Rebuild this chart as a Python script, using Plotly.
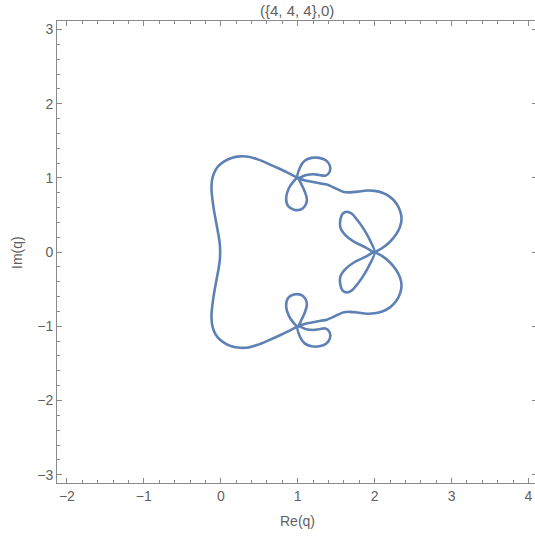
import plotly.graph_objects as go

LINE = "#5E81B5"
FRAME = "#8a8a8a"
TEXT = "#5f5f5f"

# Outer arc: from 1+i over the top, down the left side, to 1-i
arc_re = [1.0, 0.88, 0.77, 0.62, 0.48, 0.36, 0.25, 0.14, 0.04, -0.04, -0.09, -0.115,
          -0.12, -0.097, -0.06, -0.028, -0.012, -0.008,
          -0.012, -0.028, -0.06, -0.097, -0.12, -0.115, -0.09, -0.04, 0.04, 0.14, 0.25, 0.36,
          0.48, 0.62, 0.77, 0.88, 1.0]
arc_im = [1.0, 1.065, 1.12, 1.19, 1.25, 1.285, 1.29, 1.27, 1.22, 1.15, 1.06, 0.96,
          0.84, 0.62, 0.4, 0.22, 0.1, 0.0,
          -0.1, -0.22, -0.4, -0.62, -0.84, -0.96, -1.06, -1.15, -1.22, -1.27, -1.29, -1.285,
          -1.25, -1.19, -1.12, -1.065, -1.0]

# Small loops at 1+i
loop_ul_re = [1.0, 0.945, 0.885, 0.85, 0.875, 0.95, 1.04, 1.1, 1.12, 1.09, 1.045, 1.0]
loop_ul_im = [1.0, 0.95, 0.86, 0.73, 0.62, 0.572, 0.575, 0.63, 0.71, 0.82, 0.92, 1.0]
loop_ur_re = [1.0, 1.03, 1.09, 1.18, 1.28, 1.37, 1.42, 1.415, 1.36, 1.28, 1.2, 1.1, 1.0]
loop_ur_im = [1.0, 1.14, 1.23, 1.27, 1.27, 1.235, 1.16, 1.08, 1.03, 1.04, 1.05, 1.035, 1.0]

# Small loops at 1-i
loop_ll_re = [1.0, 0.945, 0.885, 0.85, 0.875, 0.95, 1.04, 1.1, 1.12, 1.09, 1.045, 1.0]
loop_ll_im = [-1.0, -0.95, -0.86, -0.73, -0.62, -0.572, -0.575, -0.63, -0.71, -0.82, -0.92, -1.0]
loop_lr_re = [1.0, 1.03, 1.09, 1.18, 1.28, 1.37, 1.42, 1.415, 1.36, 1.28, 1.2, 1.1, 1.0]
loop_lr_im = [-1.0, -1.14, -1.23, -1.27, -1.27, -1.235, -1.16, -1.08, -1.03, -1.04, -1.05, -1.035, -1.0]

# Wavy branch from 1+i out to the right lobe, ending at 2
wave_up_re = [1.0, 1.1, 1.2, 1.3, 1.38, 1.45, 1.52, 1.6, 1.68, 1.78, 1.9, 2.0, 2.1, 2.2,
              2.28, 2.33, 2.35, 2.33, 2.28, 2.2, 2.1, 2.0]
wave_up_im = [1.0, 0.965, 0.945, 0.925, 0.91, 0.88, 0.845, 0.81, 0.805, 0.815, 0.83, 0.825,
              0.8, 0.745, 0.66, 0.56, 0.45, 0.34, 0.24, 0.14, 0.055, 0.0]
wave_dn_re = [1.0, 1.1, 1.2, 1.3, 1.38, 1.45, 1.52, 1.6, 1.68, 1.78, 1.9, 2.0, 2.1, 2.2,
              2.28, 2.33, 2.35, 2.33, 2.28, 2.2, 2.1, 2.0]
wave_dn_im = [-1.0, -0.965, -0.945, -0.925, -0.91, -0.88, -0.845, -0.81, -0.805, -0.815, -0.83, -0.825,
              -0.8, -0.745, -0.66, -0.56, -0.45, -0.34, -0.24, -0.14, -0.055, 0.0]

# Inner lobes at 2
lobe_up_re = [2.0, 1.88, 1.73, 1.62, 1.555, 1.555, 1.585, 1.64, 1.7, 1.77, 1.84, 1.92, 2.0]
lobe_up_im = [0.0, 0.065, 0.14, 0.23, 0.33, 0.44, 0.52, 0.545, 0.52, 0.44, 0.34, 0.2, 0.0]
lobe_dn_re = [2.0, 1.88, 1.73, 1.62, 1.555, 1.555, 1.585, 1.64, 1.7, 1.77, 1.84, 1.92, 2.0]
lobe_dn_im = [0.0, -0.065, -0.14, -0.23, -0.33, -0.44, -0.52, -0.545, -0.52, -0.44, -0.34, -0.2, 0.0]

segments = [
    (arc_re, arc_im),
    (loop_ul_re, loop_ul_im), (loop_ur_re, loop_ur_im),
    (loop_ll_re, loop_ll_im), (loop_lr_re, loop_lr_im),
    (wave_up_re, wave_up_im), (wave_dn_re, wave_dn_im),
    (lobe_up_re, lobe_up_im), (lobe_dn_re, lobe_dn_im),
]

fig = go.Figure()
for re_vals, im_vals in segments:
    fig.add_trace(go.Scatter(
        x=re_vals, y=im_vals, mode="lines",
        line=dict(color=LINE, width=2.6, shape="spline", smoothing=1.0),
        hoverinfo="skip", showlegend=False,
    ))

x_ticks = [-2, -1, 0, 1, 2, 3, 4]
y_ticks = [-3, -2, -1, 0, 1, 2, 3]

axis_common = dict(
    showgrid=False, zeroline=False,
    showline=True, linecolor=FRAME, linewidth=1,
    ticks="inside", ticklen=5, tickcolor=FRAME, tickwidth=1,
    tickfont=dict(family="Liberation Sans, Arial, sans-serif", size=14, color=TEXT),
    minor=dict(ticks="inside", ticklen=3, dtick=0.2, tickcolor=FRAME, tickwidth=1, showgrid=False),
)

fig.update_layout(
    width=535, height=537,
    margin=dict(l=57, r=0, t=21, b=54),
    plot_bgcolor="white", paper_bgcolor="white",
    xaxis=dict(range=[-2.129, 4.085], tickvals=x_ticks, mirror="ticks", **axis_common),
    yaxis=dict(range=[-3.112, 3.115], tickvals=y_ticks, **axis_common),
    # right frame sits just past the edge, so only the tips of its major ticks show
    yaxis2=dict(range=[-3.112, 3.115], overlaying="y", side="right", matches="y",
                showline=False, showgrid=False, zeroline=False, showticklabels=False,
                ticks="inside", ticklen=3, tickcolor=FRAME, tickvals=y_ticks),
    font=dict(family="Liberation Sans, Arial, sans-serif", color=TEXT),
    annotations=[
        dict(text="({4, 4, 4},0)", xref="paper", yref="paper", x=0.503, y=1.0238,
             xanchor="center", yanchor="middle", showarrow=False,
             font=dict(size=15, color=TEXT)),
        dict(text="Re(q)", xref="paper", yref="paper", x=0.503, y=-0.0823,
             xanchor="center", yanchor="middle", showarrow=False,
             font=dict(size=14, color=TEXT)),
        dict(text="Im(q)", xref="paper", yref="paper", x=-0.0837, y=0.5,
             xanchor="center", yanchor="middle", showarrow=False, textangle=-90,
             font=dict(size=14, color=TEXT)),
    ],
)
# an empty trace keeps the right-hand tick axis drawn
fig.add_trace(go.Scatter(x=[], y=[], yaxis="y2", showlegend=False, hoverinfo="skip"))

fig.write_html("out.html")
